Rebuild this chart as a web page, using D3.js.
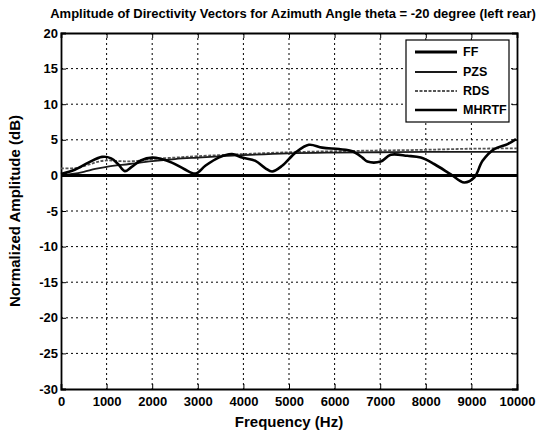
<!DOCTYPE html>
<html><head><meta charset="utf-8">
<script src="https://cdn.jsdelivr.net/npm/d3@7"></script>
<style>
html,body{margin:0;padding:0;background:#fff;}
text{font-family:"Liberation Sans",Arial,sans-serif;font-weight:bold;fill:#000;}
</style></head>
<body><svg id="c" width="549" height="433"></svg>
<script>
const title = "Amplitude of Directivity Vectors for Azimuth Angle theta = -20 degree (left rear)";
const xLabel = "Frequency (Hz)";
const yLabel = "Normalized Amplitude (dB)";
const xTicks = [0,1000,2000,3000,4000,5000,6000,7000,8000,9000,10000];
const yTicks = [20,15,10,5,0,-5,-10,-15,-20,-25,-30];
const seriesNames = ["FF","PZS","RDS","MHRTF"];

const ffFreq = [0,10000];
const ffAmp  = [0,0];

const pzsFreq = [0,250,500,750,1000,1500,2000,2500,3000,4000,5000,6000,7000,8000,9000,10000];
const pzsAmp  = [0,0.2,0.5,0.9,1.2,1.6,2.0,2.3,2.5,2.85,3.1,3.2,3.25,3.3,3.3,3.3];

const rdsFreq = [0,250,400,600,800,1000,1300,1600,2000,2500,3000,4000,5000,6000,7000,8000,9000,10000];
const rdsAmp  = [1.0,1.0,1.1,1.5,1.9,2.1,2.0,2.0,2.3,2.5,2.7,3.0,3.25,3.4,3.5,3.6,3.75,3.8];

const mhrtfFreq = [0,300,600,900,1100,1250,1400,1550,1750,2000,2200,2430,2700,2950,3165,3457,3750,3970,4264,4484,4630,4850,5143,5436,5729,6095,6389,6609,6718,7011,7231,7598,7890,8183,8549,8842,9062,9245,9500,9795,9978];
const mhrtfAmp  = [0.2,0.8,1.8,2.6,2.4,1.6,0.6,1.2,2.1,2.5,2.3,1.8,0.9,0.25,1.35,2.5,3.0,2.5,2.05,1.0,0.55,1.35,3.2,4.3,3.9,3.7,3.4,2.5,1.95,1.95,2.9,2.75,2.5,1.6,0.15,-1.0,-0.3,2.05,3.7,4.4,5.1];

const svg = d3.select("#c");
const L = 61, R = 517, T = 33, B = 389;
const x = d3.scaleLinear().domain([0,10000]).range([L,R]);
const y = d3.scaleLinear().domain([-30,20]).range([B,T]);

// grid
const g = svg.append("g");
g.selectAll(".vx").data(xTicks.slice(1,-1)).enter().append("line")
  .attr("x1",d=>x(d)).attr("x2",d=>x(d)).attr("y1",T).attr("y2",B)
  .attr("stroke","#000").attr("stroke-width",1).attr("stroke-dasharray","2,3");
g.selectAll(".hy").data(yTicks.slice(1,-1)).enter().append("line")
  .attr("y1",d=>y(d)).attr("y2",d=>y(d)).attr("x1",L).attr("x2",R)
  .attr("stroke","#000").attr("stroke-width",1).attr("stroke-dasharray","2,3");

// axes
const fmt = d => String(d);
const xa = svg.append("g").attr("transform",`translate(0,${B})`)
  .call(d3.axisBottom(x).tickValues(xTicks).tickSize(-5).tickPadding(8).tickFormat(fmt));
const xt = svg.append("g").attr("transform",`translate(0,${T})`)
  .call(d3.axisTop(x).tickValues(xTicks).tickSize(-5).tickFormat(""));
const ya = svg.append("g").attr("transform",`translate(${L},0)`)
  .call(d3.axisLeft(y).tickValues(yTicks).tickSize(-5).tickPadding(3).tickFormat(fmt));
const yr = svg.append("g").attr("transform",`translate(${R},0)`)
  .call(d3.axisRight(y).tickValues(yTicks).tickSize(-5).tickFormat(""));
[xa,xt,ya,yr].forEach(a=>{
  a.selectAll("path").attr("stroke","#000").attr("stroke-width",1.8);
  a.selectAll("line").attr("stroke","#000").attr("stroke-width",1);
  a.selectAll("text").attr("font-size",13).attr("font-weight","bold")
   .attr("font-family","Liberation Sans, Arial, sans-serif").attr("fill","#000");
});

// series
const line = d3.line().x(d=>x(d[0])).y(d=>y(d[1])).curve(d3.curveCatmullRom.alpha(0.5));
const zip = (a,b)=>a.map((v,i)=>[v,b[i]]);
const styles = {
  FF:{w:3,c:"#000",dash:null},
  PZS:{w:1.8,c:"#1a1a1a",dash:null},
  RDS:{w:1.8,c:"#555",dash:"3,1.5"},
  MHRTF:{w:2.6,c:"#000",dash:null}
};
const data = {
  FF:zip(ffFreq,ffAmp), PZS:zip(pzsFreq,pzsAmp),
  RDS:zip(rdsFreq,rdsAmp), MHRTF:zip(mhrtfFreq,mhrtfAmp)
};
["RDS","PZS","MHRTF","FF"].forEach(k=>{
  svg.append("path").datum(data[k]).attr("d",line).attr("fill","none")
    .attr("stroke",styles[k].c).attr("stroke-width",styles[k].w)
    .attr("stroke-dasharray",styles[k].dash);
});

// legend
const lg = svg.append("g");
lg.append("rect").attr("x",406).attr("y",40).attr("width",103).attr("height",82)
  .attr("fill","#fff").attr("stroke","#000").attr("stroke-width",1.2);
const rows = [52,72,91,110];
seriesNames.forEach((n,i)=>{
  lg.append("line").attr("x1",415).attr("x2",457).attr("y1",rows[i]).attr("y2",rows[i])
    .attr("stroke",styles[n].c).attr("stroke-width",styles[n].w)
    .attr("stroke-dasharray",styles[n].dash);
  lg.append("text").attr("x",463).attr("y",rows[i]).attr("dy","0.35em")
    .attr("font-size",12.5).text(n);
});

// labels
svg.append("text").attr("x",293).attr("y",18).attr("text-anchor","middle")
  .attr("font-size",13).text(title);
svg.append("text").attr("x",(L+R)/2).attr("y",427).attr("text-anchor","middle")
  .attr("font-size",15).text(xLabel);
svg.append("text").attr("transform",`translate(20,${(T+B)/2}) rotate(-90)`)
  .attr("text-anchor","middle").attr("font-size",15).text(yLabel);
</script></body></html>
